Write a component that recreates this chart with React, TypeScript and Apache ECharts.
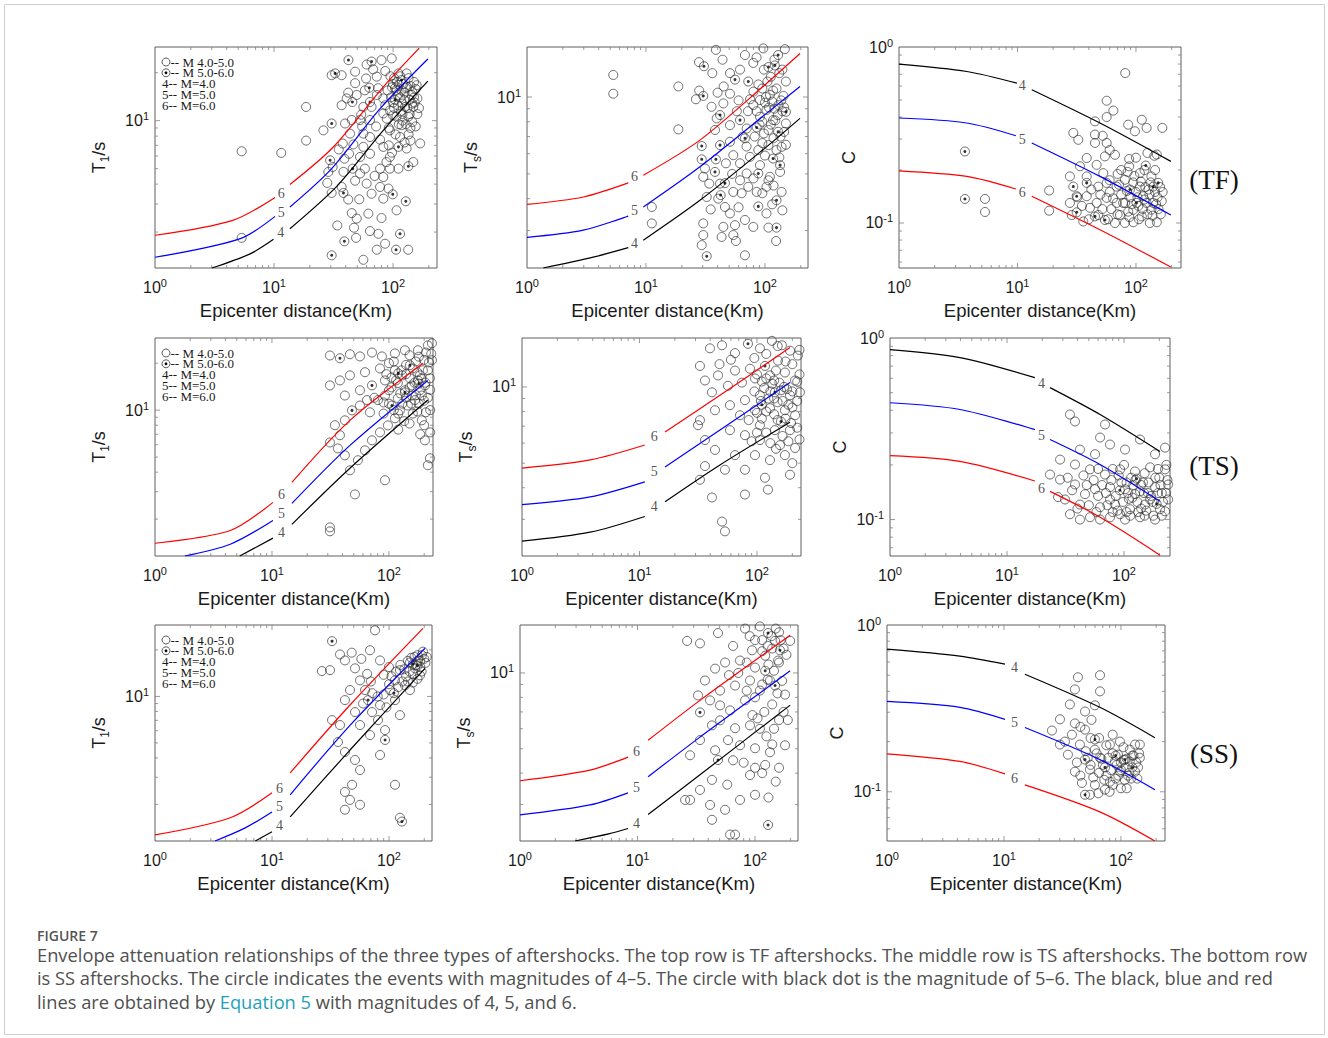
import React, { useEffect, useRef } from "react";
import * as echarts from "echarts";

const SERIF = "'Liberation Serif', 'Times New Roman', serif";
const SANS = "'Liberation Sans', Arial, sans-serif";
const CAPTION_FONT = "'Open Sans', 'Noto Sans', sans-serif";

// ---------- TF aftershocks ----------
const tfT1Open = [[5.35,6.43],[11.5,6.28],[18.6,12.2],[18.6,7.5],[5.35,1.84],[26,8.7],[30.5,19.3],[37,19.3],[97.5,24.6],[80,24],[169,7.2],[148,5.5],[107,2.74],[134,1.55],[85.7,1.69],[75.3,1.95],[73,1.55],[56.3,1.34],[64,2.03],[48.9,1.84],[80,2.45],[45,2.63],[49.5,2.43],[30.5,3.52],[28,4.07],[52,3.21],[60,4.03],[77.8,3.84],[91.4,3.75],[52.8,4.66],[77.8,5.0],[82.8,4.43],[31.1,5.12],[39,5.78],[42.7,6.2],[37.8,7.19],[46.4,7.1],[56.3,6.85],[64,7.9],[82.8,6.85],[130,6.69],[114.5,7.9],[94,8.7],[118,9.37],[134.5,10.6],[148,12.2],[143.6,14.5],[130,16.3],[107,15.6],[94,11.6],[88.5,10.3],[107,10.6],[126,12.2],[111,19.8],[130,19.8],[73,18.9],[73,14.5],[59.3,18.4],[48,20.3],[48,17.2],[49.5,14.5],[40.8,13.8],[37,12.5],[56.3,12.2],[64,10.1],[52.8,10.1],[45,10.1],[82.8,11.1],[82.8,13.8],[39.5,9.6],[43.5,8.3],[56.3,8.3],[77.8,7.6],[52.8,5.92],[64,6.2],[94,5.92],[111,5.0],[94,5.0],[62,2.61],[37,3.84],[28.6,4.77],[82.8,3.24],[47,2.13],[38.3,4.77],[66,3.48],[100,17],[115,14],[120,12.8],[138,13.5],[125,15],[112,16.8],[100,13],[90,15.5],[140,9],[120,11],[105,8.2],[92,7],[150,17.5],[160,11],[95,19],[68,21],[58,15.5],[42,15],
  [102,18.5],[108,17.5],[115,19],[122,17],[128,16],[135,18.5],[140,16.5],[145,15.2],[150,14],[155,15.8],[118,15.5],[110,14.5],[104,16],[98,16.2],[96,14],[102,12],[110,12.5],[116,11.5],[124,13.5],[132,12],[138,11],[145,12.8],[152,13],[160,13.8],[165,12],[158,16.7],[112,9.5],[120,10],[128,9.5],[100,10.8],[92,9],[86,12.5],[135,8.2],[145,9.8],[155,9.2],[125,7.3],[140,7.5],[98,6.3],[88,5.5],[70,4.5],[58,5],[48,4.2],[42,3.2],[34,2.2],[72,9.2],[66,12.2],[55,9.2],[35,6.6],[60,22.5],[86,20.5],[75,16],[54,10.9]];
const tfT1Dot = [[30.5,9.6],[30.5,1.43],[32.6,19.8],[42.2,24],[66,23.5],[134.5,5.18],[128,3.12],[114.5,1.95],[106,1.55],[99.4,3.45],[39,1.75],[38.3,3.52],[45.8,5.0],[29.6,5.64],[111,6.85],[118,18],[104,13.5],[63.2,16.1],[45.5,13.1],[64,13.1]];
const tfT1M4 = [[[3.0,1.19],[6.3,1.46],[9.9,1.80]], [[13.6,2.10],[34.3,3.93],[82.8,8.7],[196,17.7]]];
const tfT1M5 = [[[1,1.39],[5.2,1.82],[10.2,2.51]], [[13.6,2.87],[30.5,5.0],[77.8,11.9],[196,24.4]]];
const tfT1M6 = [[[1,1.91],[4.5,2.37],[10.2,3.3]], [[13.6,3.98],[31.5,6.84],[82.9,16.3],[166,28.5]]];
const tfT1Tags = [[11.5,1.97],[11.6,2.63],[11.6,3.45]];

const tfTsOpen = [[5.31,12.2],[5.31,10.3],[11.2,3.71],[11.2,3.2],[18.7,11.0],[18.7,7.47],[27.9,13.7],[38.7,15.3],[44,14],[36.1,12.4],[28,10.6],[26.3,9.8],[35.6,9.16],[39.3,8.25],[44.7,9.44],[50.8,10.3],[50.8,12.4],[61.7,12.8],[67.9,14.6],[79.8,13.6],[96.8,15.5],[147,15.4],[132,12.4],[117,10.6],[143,10.1],[90.8,9.73],[79.8,9.3],[103,8.9],[90.8,8.37],[117,8.12],[150,7.88],[107,7.43],[70.2,7.53],[50.8,7.76],[38,7.43],[31.3,5.25],[50.8,6.68],[54.2,5.92],[61.7,5.5],[74.8,5.83],[90.8,5.41],[138,6.38],[107,6.48],[87.9,6.2],[110,4.87],[134,5.09],[70.2,5.02],[61.7,4.72],[34,4.58],[41.9,4.58],[30.3,4.87],[32.4,4.06],[54.2,4.25],[63.7,4.2],[72.4,4.45],[85.2,4.25],[103,4.45],[107,4.72],[138,4.25],[103,3.5],[107,3.08],[124,2.73],[79.8,3.1],[67.9,3.3],[56,3.15],[54.2,2.88],[44.7,3.1],[50.8,3.5],[43.2,2.83],[30.3,3.2],[30.3,2.88],[29.4,2.63],[57,2.73],[67.9,2.4],[40.5,4.0],[35,3.63],[46.1,3.71],[95,8.0],[100,9.5],[110,10.2],[120,9.0],[128,8.5],[98,7.2],[85,8.8],[112,7.8],[125,10.8],[105,11.5],[135,7.0],[140,8.8],
  [75,9.8],[80,10.5],[88,11.2],[95,10.8],[102,10],[108,9.1],[115,9.6],[122,8.1],[130,9.3],[137,9.7],[145,9.1],[90,7.8],[82,7.0],[95,6.6],[100,5.9],[118,6.9],[125,6.2],[132,5.8],[145,7.3],[150,6.5],[70,6.4],[65,7.0],[58,8.8],[72,8.8],[112,12.0],[98,12.8],[85,14.3],[140,12.8],[150,11.5],[120,14.0],[45,11],[40,10.4],[60,9.7],[53,5.0],[47,5.5],[80,4.8],[95,4.2],[115,3.8],[60,3.7],[118,4.5],[140,3.6]];
const tfTsDot = [[30.7,13.2],[30.3,10.1],[56,11.7],[72.4,11.5],[107,13.1],[129,14.6],[121,13.3],[150,8.75],[129,7.31],[85.2,7.6],[67.9,6.89],[61.7,8.12],[41.9,8.5],[29.4,6.43],[29.4,5.7],[38.7,5.7],[41.9,6.48],[117,5.74],[134,5.41],[87.9,5.02],[38,5.09],[46.1,4.6],[42.4,4.13],[125,3.94],[87.9,3.73],[125,3.08],[32.4,2.38]];
const tfTsM4 = [[[1.37,2.14],[3.6,2.36],[7.1,2.57]], [[9.5,2.75],[28.4,3.94],[103,6.38],[197,8.25]]];
const tfTsM5 = [[[1,2.82],[2.97,3.01],[7.1,3.42]], [[9.5,3.71],[28.4,5.33],[103,8.63],[197,11.0]]];
const tfTsM6 = [[[1,3.80],[2.97,4.06],[7.1,4.61]], [[9.5,4.94],[28.4,6.78],[103,11.3],[197,14.8]]];
const tfTsTags = [[8.1,2.65],[8.1,3.57],[8.1,4.87]];

const tfCOpen = [[5.32,0.137],[5.32,0.1155],[18.5,0.153],[18.5,0.1175],[81.2,0.711],[56.6,0.495],[64.4,0.435],[56.6,0.40],[45.1,0.378],[52.4,0.313],[45.1,0.318],[45.1,0.285],[56.6,0.285],[29.6,0.325],[32.6,0.297],[66.5,0.244],[86,0.362],[98,0.332],[112,0.386],[123,0.347],[167,0.347],[143,0.241],[87.7,0.231],[87.7,0.210],[108,0.192],[38.4,0.234],[54.7,0.239],[46.6,0.214],[33.7,0.210],[27.7,0.184],[27.7,0.130],[28.7,0.111],[35.9,0.102],[66.5,0.100],[46.6,0.130],[56.6,0.139],[68.7,0.130],[56.6,0.169],[68.7,0.161],[48.1,0.161],[80.7,0.176],[81,0.130],[95,0.119],[80.7,0.100],[95,0.101],[112,0.109],[131,0.100],[150,0.101],[135,0.119],[115,0.142],[135,0.184],[165,0.133],[108,0.161],[123,0.130],[73.3,0.111],[86,0.116],[40.9,0.122],[38.4,0.142],[53,0.192],[38.4,0.184],[48.1,0.111],[100,0.15],[120,0.16],[90,0.14],[140,0.13],[105,0.125],[75,0.145],[62,0.12],[130,0.145],[155,0.12],[95,0.17],[70,0.19],[60,0.15],
  [32,0.14],[35,0.125],[40,0.105],[42,0.155],[50,0.145],[52,0.12],[58,0.105],[60,0.175],[64,0.138],[70,0.112],[72,0.165],[78,0.13],[84,0.152],[88,0.108],[92,0.128],[97,0.185],[103,0.14],[106,0.105],[110,0.172],[114,0.12],[118,0.136],[125,0.112],[128,0.155],[133,0.17],[138,0.11],[145,0.15],[148,0.128],[152,0.14],[160,0.16],[162,0.112],[168,0.15],[75,0.2],[85,0.195],[118,0.2],[145,0.2],[100,0.235],[60,0.26],[125,0.25],[150,0.245]];
const tfCDot = [[3.6,0.255],[3.6,0.137],[121,0.212],[29.6,0.161],[31.6,0.115],[31.6,0.142],[38.4,0.169],[45.1,0.109],[54.7,0.104],[89,0.155],[140,0.161],[154,0.169],[101,0.130]];
const tfCM4 = [[[1,0.80],[3.73,0.726],[9.9,0.624]], [[13.2,0.572],[49.7,0.370],[197,0.224]]];
const tfCM5 = [[[1,0.395],[3.73,0.370],[9.7,0.313]], [[13.2,0.285],[49.7,0.184],[197,0.111]]];
const tfCM6 = [[[1,0.198],[3.73,0.184],[9.7,0.156]], [[13.2,0.142],[49.7,0.0916],[197,0.0562]]];
const tfCTags = [[11.1,0.597],[11.1,0.297],[11.1,0.149]];

// ---------- TS aftershocks ----------
const tsT1Open = [[31.3,22.4],[46.4,22.8],[56.5,22.1],[71.6,23.4],[87.1,22.1],[112.5,23.1],[137,24.2],[177,24.2],[215,26],[233,26.8],[207,23.4],[112.5,18],[83.8,18.5],[62.4,17.5],[46.4,16.7],[38.1,15.5],[31.3,14.4],[42,12.4],[56.5,13.4],[92.5,15.5],[119,14.9],[151,16],[184,16.7],[31.3,6.2],[34.5,8],[38.1,6.9],[42,8.6],[56.5,10.7],[68.8,9.68],[80.5,11.6],[92.5,12.4],[119,11.9],[137,13.4],[157,14.4],[177,15.5],[112.5,8.86],[98,7.98],[83.8,7.2],[71.6,6.4],[62.4,5.52],[54.3,4.77],[46.4,4.11],[42,5.13],[36.6,5.68],[124,9.96],[145,10.7],[167,11.6],[191,12.4],[203,6.4],[224,4.91],[215,4.43],[51.2,2.88],[31.3,1.77],[31.3,1.67],[92.5,3.55],[157,12.4],[184,13.4],[203,14.4],[233,20.9],[224,16],[207,9.68],[191,8.6],[100,13.4],[130,16.7],[160,18.5],[75,12],[65,11.6],[90,9.5],[120,7.5],[150,8.2],[170,20.5],[140,19.5],[110,20.5],[195,18],[125,12.8],[105,14],
  [95,17],[105,16.2],[115,15.5],[128,18],[140,17],[150,14],[165,15],[175,17.5],[190,16],[205,15],[215,18],[225,13.5],[130,11],[140,12],[155,11],[170,12.5],[180,11],[200,11.5],[215,12],[225,10],[110,10],[100,11],[160,9.5],[175,9.8],[120,9.5],[135,8.5],[90,11.2],[200,8],[225,7.2],[185,7],[230,23],[200,21],[180,22],[220,20.2],[150,22.5],[100,20]];
const tsT1Dot = [[38.1,21.5],[151,19.4],[71.6,14.4],[48.3,9.96],[106,10.7],[137,13],[180,14.8],[120,17.2]];
const tsT1M4 = [[[5.3,1.16],[10.2,1.51]], [[14.8,1.85],[46.4,4.24],[215,11.6]]];
const tsT1M5 = [[[1.8,1.16],[4.4,1.38],[10.2,1.96]], [[14.8,2.52],[46.4,5.94],[215,15.5]]];
const tsT1M6 = [[[1,1.40],[4.4,1.69],[10.2,2.56]], [[14.8,3.44],[46.4,8.6],[195,19.9]]];
const tsT1Tags = [[12.2,1.62],[12.2,2.15],[12.2,2.84]];

const tsTsOpen = [[39.8,14.2],[50.4,14.6],[65,13.6],[106,14.2],[134,15.2],[163,14.6],[191,13.9],[223,13.3],[151,12.7],[87.2,11.8],[65,11.6],[46.6,11.1],[36.1,10.6],[32.7,12.1],[41.4,9.52],[56.6,10.1],[74.5,10.4],[96.2,10.8],[129,11.1],[173,11.4],[211,10.6],[232,9.52],[191,9.27],[106,9.27],[79,8.87],[58.9,8.47],[43.9,8.09],[32.7,7.39],[71.7,7.73],[96.2,8.09],[129,8.24],[173,8.09],[211,7.73],[106,7.06],[142,6.75],[191,6.75],[79,6.45],[58.9,6.75],[36.1,6.17],[43.9,5.64],[65,5.38],[96.2,5.38],[129,5.14],[173,5.38],[211,5.74],[53.4,4.71],[79,4.71],[117,4.38],[191,4.5],[32.7,4.3],[41.4,3.66],[79,3.76],[124,3.93],[50.4,2.94],[53.4,2.69],[36.1,4.87],[31.5,7.06],[106,6.17],[157,5.89],[115,9.9],[125,9.0],[135,10.3],[150,8.7],[160,9.7],[100,7.9],[140,7.8],[120,6.6],[165,6.4],[90,6.1],
  [100,11.2],[110,10.5],[120,10.8],[140,10.6],[145,11.6],[155,10.4],[170,10],[180,9.8],[200,9.6],[220,10.5],[230,11.2],[95,9.6],[108,8.8],[130,9.6],[140,9.0],[165,8.8],[185,8.5],[200,8.3],[220,8.8],[110,7.5],[120,8.0],[150,7.4],[175,7.5],[195,7.2],[220,6.9],[230,6.2],[130,6.0],[145,5.7],[185,6.1],[200,5.0],[100,6.6],[85,7.4],[230,14],[200,12.3],[175,12.6],[150,14.5],[120,13.5],[95,13],[60,12.8],[48,12.3]];
const tsTsDot = [[83.8,14.8],[117,12.1],[142,9.52],[110,8.5],[160,7.3]];
const tsTsM4 = [[[1,2.46],[3.8,2.67],[11.1,3.08]], [[16.5,3.52],[48.4,4.92],[191,7.25]]];
const tsTsM5 = [[[1,3.43],[3.8,3.68],[11.1,4.22]], [[16.5,4.83],[48.4,6.76],[191,10.4]]];
const tsTsM6 = [[[1,4.78],[3.8,5.15],[11.1,5.9]], [[16.5,6.64],[48.4,9.27],[191,14.3]]];
const tsTsTags = [[13.5,3.37],[13.5,4.62],[13.5,6.34]];

const tsCOpen = [[34.5,0.379],[38.1,0.347],[68.8,0.334],[62.4,0.283],[42,0.243],[56.5,0.229],[75.9,0.259],[102,0.243],[137,0.276],[184,0.229],[224,0.249],[28.4,0.214],[38.1,0.201],[51.2,0.189],[68.8,0.177],[92.5,0.189],[124,0.184],[167,0.194],[224,0.189],[28.4,0.166],[38.1,0.156],[56.5,0.147],[75.9,0.151],[102,0.147],[137,0.143],[184,0.151],[238,0.156],[31.3,0.129],[42,0.121],[62.4,0.117],[83.8,0.121],[112.5,0.114],[151,0.121],[203,0.114],[238,0.129],[34.5,0.107],[51.2,0.103],[75.9,0.103],[102,0.100],[137,0.103],[184,0.100],[224,0.111],[42,0.100],[62.4,0.100],[92.5,0.107],[46.4,0.138],[23.3,0.177],[27.3,0.133],[75.9,0.129],[124,0.138],[167,0.129],[95,0.16],[110,0.13],[130,0.125],[145,0.16],[105,0.11],[120,0.155],[160,0.14],[85,0.135],[115,0.17],[175,0.125],[200,0.17],[210,0.14],[140,0.115],[88,0.112],[100,0.2],[150,0.105],
  [33,0.17],[36,0.145],[40,0.115],[45,0.175],[48,0.155],[50,0.12],[55,0.165],[58,0.11],[60,0.135],[65,0.155],[70,0.14],[72,0.12],[78,0.165],[80,0.11],[90,0.175],[98,0.125],[105,0.16],[108,0.14],[113,0.105],[118,0.132],[125,0.165],[132,0.11],[140,0.155],[148,0.14],[155,0.112],[162,0.16],[170,0.135],[178,0.105],[185,0.17],[195,0.14],[205,0.155],[215,0.125],[228,0.14],[235,0.165],[210,0.105],[195,0.19],[150,0.18],[80,0.19],[60,0.19],[230,0.2]];
const tsCDot = [[92,0.145],[128,0.168],[190,0.122]];
const tsCM4 = [[[1,0.863],[3.96,0.78],[17.3,0.605]], [[23.3,0.533],[62.4,0.379],[203,0.237]]];
const tsCM5 = [[[1,0.44],[3.96,0.404],[17.3,0.313]], [[23.3,0.276],[62.4,0.201],[203,0.126]]];
const tsCM6 = [[[1,0.225],[3.96,0.209],[17.3,0.163]], [[23.3,0.143],[62.4,0.103],[203,0.0637]]];
const tsCTags = [[19.9,0.561],[19.9,0.287],[19.9,0.147]];

// ---------- SS aftershocks ----------
const ssT1Open = [[26.7,14.6],[38.1,18.7],[42,17.1],[51.2,15.2],[68.8,19.9],[75.9,26.8],[83.8,17.1],[56.5,12.7],[62.4,11],[46.4,11],[42,9.47],[51.2,7.92],[56.5,6.53],[71.6,7.92],[80.5,7.03],[83.8,8.79],[102,11],[112.5,12.7],[124,14.8],[151,16.6],[167,15.2],[184,13.7],[137,11.8],[112.5,9.47],[124,7.57],[92.5,6.06],[68.8,5.62],[38.1,6.53],[32.6,7.03],[36.6,5.07],[42,4.37],[51.2,3.88],[56.5,3.34],[48.3,2.68],[42,2.41],[46.4,2.14],[56.5,1.99],[42,1.85],[124,1.64],[112.5,2.68],[83.8,4.18],[151,11],[177,17.1],[191,18.5],[31.3,14.8],[160,14],[140,13.5],[200,17.5],[95,8.5],[130,12.5],[150,14.5],[170,16],[185,15.5],[60,9],[72,10.5],
  [105,13.5],[115,14.5],[125,16],[135,15],[145,17],[155,17.8],[165,18],[175,18.5],[185,17],[195,19.5],[205,16.5],[210,18],[145,12.5],[160,12.3],[175,13],[190,14.5],[120,11.5],[100,12],[90,10.3],[80,10],[70,12.5],[65,14],[58,17.5],[48,19.2],[100,15.5],[90,13.8]];
const ssT1Dot = [[32.6,22.8],[66.2,9.47],[92.5,5.23],[129,1.55],[175,15.8],[110,10.5],[160,16.2]];
const ssT1M4 = [[[7.2,1.16],[10,1.33]], [[14.3,1.66],[46.4,4.5],[203,15.2]]];
const ssT1M5 = [[[3.26,1.16],[5.9,1.41],[10,1.79]], [[14.3,2.31],[46.4,6.5],[203,20.5]]];
const ssT1M6 = [[[1,1.27],[4.4,1.64],[10,2.38]], [[14.3,3.2],[46.4,8.8],[195,27.6]]];
const ssT1Tags = [[11.7,1.44],[11.7,1.93],[11.7,2.52]];

const ssTsOpen = [[26.4,13.4],[34,13.1],[48.4,14.4],[65,12.8],[82.2,15],[110,15.3],[148,13.4],[122,11.7],[94.3,12.3],[74.5,11.2],[55.6,11],[45.7,10.4],[37.5,9.33],[32.7,8.14],[41.4,7.78],[50.4,8.51],[67.6,8.91],[90.6,9.33],[157,11.2],[110,8.51],[82.2,7.78],[61.3,7.1],[50.4,6.48],[67.6,6.03],[90.6,6.19],[43,6.19],[34,5.41],[28,4.71],[45.7,4.93],[74.5,5.16],[100,5.02],[134,4.84],[180,5.16],[122,4.31],[90.6,3.93],[43,3.76],[34,3.43],[28,3.13],[41.4,2.99],[55.6,2.86],[74.5,3.13],[100,3.28],[61.3,2.28],[67.6,2.28],[43,2.61],[25.4,3.13],[50.4,7.43],[199,13.4],[134,9.33],[58.9,5.41],[140,12.5],[130,10.8],[115,13.5],[160,14.5],[100,10.5],[85,11],[120,7],[105,6.6],[145,6],
  [90,14],[100,13.5],[115,12.2],[128,12.8],[138,14],[150,15],[165,13.5],[175,12.5],[185,11.8],[160,11],[145,10.2],[128,9.4],[115,9],[100,8],[140,7.5],[155,8.3],[170,9.3],[180,8.2],[60,9.8],[72,10],[85,8.5],[95,6.8],[110,6],[125,5.6],[140,5.2],[160,6.5],[175,7],[190,6.5],[100,4.2],[115,4],[65,4.5],[80,4.4],[58,3.6],[150,3.7],[130,3.2],[160,4.2]];
const ssTsDot = [[129,14.4],[163,12.3],[122,10.2],[34,6.97],[48.4,4.51],[129,2.49],[148,8.91]];
const ssTsM4 = [[[2.94,2.15],[5.8,2.30],[8.3,2.41]], [[12.3,2.74],[34,3.94],[199,7.45]]];
const ssTsM5 = [[[1,2.73],[3.94,2.99],[8.3,3.34]], [[12.3,3.87],[34,5.56],[199,10.2]]];
const ssTsM6 = [[[1,3.73],[3.94,4.11],[8.3,4.63]], [[12.3,5.4],[34,7.78],[199,14.1]]];
const ssTsTags = [[9.9,2.52],[9.9,3.49],[9.9,4.84]];

const ssCOpen = [[42.9,0.486],[66.2,0.5],[40.4,0.411],[66.2,0.40],[36.6,0.334],[49.3,0.303],[59.9,0.33],[30.1,0.272],[40.4,0.257],[25.7,0.233],[49.3,0.236],[33.2,0.20],[44.6,0.192],[80.5,0.192],[98,0.20],[119,0.179],[132,0.192],[35.2,0.167],[66.2,0.160],[88.9,0.152],[145,0.160],[40.4,0.132],[54.3,0.136],[98,0.132],[132,0.132],[46.4,0.113],[59.9,0.110],[80.5,0.115],[108,0.118],[54.3,0.096],[73,0.103],[30.1,0.192],[38.1,0.22],[94.3,0.167],[59.9,0.179],[145,0.192],[119,0.152],[70,0.145],[85,0.17],[110,0.14],[125,0.165],[100,0.15],[75,0.125],[90,0.12],[140,0.14],[115,0.125],[65,0.21],[50,0.175],
  [42,0.15],[45,0.125],[52,0.16],[55,0.145],[58,0.122],[62,0.17],[65,0.13],[68,0.158],[72,0.118],[78,0.16],[82,0.135],[85,0.11],[92,0.145],[95,0.125],[100,0.135],[105,0.155],[112,0.158],[118,0.13],[122,0.12],[128,0.165],[135,0.15],[138,0.12],[143,0.17],[112,0.105],[64,0.098],[80,0.1],[100,0.105],[75,0.19],[105,0.185],[55,0.21],[85,0.22],[45,0.245],[56,0.27]];
const ssCDot = [[59.9,0.206],[49.3,0.156],[108,0.156],[73,0.140],[49.3,0.096],[90,0.165],[125,0.14]];
const ssCM4 = [[[1,0.717],[4.2,0.651],[10.2,0.582]], [[15.1,0.507],[66,0.321],[195,0.211]]];
const ssCM5 = [[[1,0.348],[4.2,0.321],[10.2,0.272]], [[15.1,0.243],[66,0.156],[195,0.103]]];
const ssCM6 = [[[1,0.169],[4.2,0.152],[10.2,0.128]], [[15.1,0.110],[66,0.0758],[195,0.0507]]];
const ssCTags = [[12.4,0.551],[12.4,0.257],[12.4,0.12]];

// Axis extents (distance max, response min/max)
const xMaxes = [234, 230, 240, 238, 237, 247, 233, 232, 238];
const yRanges = [[1.19, 29], [2.14, 15.7], [0.0555, 1], [1.16, 29], [2.15, 15.6], [0.063, 1], [1.16, 29], [2.15, 15.5], [0.0507, 1]];
const magnitudes = ["4", "5", "6"];
const rowTags = ["(TF)", "(TS)", "(SS)"];
const legendSymbolLines = "-- M 4.0-5.0\n-- M 5.0-6.0";
const legendCurveLines = "4-- M=4.0\n5-- M=5.0\n6-- M=6.0";

// Layout of the nine axes boxes: [left, top, width, height]
const frames = [
  [155, 47, 282, 221], [527, 47, 281, 221], [899, 47, 282, 221],
  [155, 338, 278, 218], [522, 338, 279, 218], [890, 338, 280, 218],
  [155, 625, 277, 216], [520, 625, 278, 216], [887, 625, 278, 216],
];
const rowTagY = [180, 466, 754];
const curveColors = ["#000000", "#0000ff", "#ff0000"];

const panels = [
  { open: tfT1Open, dot: tfT1Dot, curves: [tfT1M4, tfT1M5, tfT1M6], tags: tfT1Tags, kind: "T1" },
  { open: tfTsOpen, dot: tfTsDot, curves: [tfTsM4, tfTsM5, tfTsM6], tags: tfTsTags, kind: "Ts" },
  { open: tfCOpen, dot: tfCDot, curves: [tfCM4, tfCM5, tfCM6], tags: tfCTags, kind: "C" },
  { open: tsT1Open, dot: tsT1Dot, curves: [tsT1M4, tsT1M5, tsT1M6], tags: tsT1Tags, kind: "T1" },
  { open: tsTsOpen, dot: tsTsDot, curves: [tsTsM4, tsTsM5, tsTsM6], tags: tsTsTags, kind: "Ts" },
  { open: tsCOpen, dot: tsCDot, curves: [tsCM4, tsCM5, tsCM6], tags: tsCTags, kind: "C" },
  { open: ssT1Open, dot: ssT1Dot, curves: [ssT1M4, ssT1M5, ssT1M6], tags: ssT1Tags, kind: "T1" },
  { open: ssTsOpen, dot: ssTsDot, curves: [ssTsM4, ssTsM5, ssTsM6], tags: ssTsTags, kind: "Ts" },
  { open: ssCOpen, dot: ssCDot, curves: [ssCM4, ssCM5, ssCM6], tags: ssCTags, kind: "C" },
];

// Powers of ten get a label like 10^k, everything else stays blank
const powLabel = (v: number) => {
  const e = Math.log10(v);
  const r = Math.round(e);
  if (Math.abs(e - r) > 1e-6) return "";
  return `{b|10}{s|${r}}`;
};
const powRich = {
  b: { fontSize: 16, lineHeight: 20, fontFamily: SANS, color: "#1a1a1a" },
  s: { fontSize: 11, lineHeight: 10, verticalAlign: "top", fontFamily: SANS, color: "#1a1a1a" },
};

// Log-decade tick positions (1..9 x 10^k) inside an axis range
const logTicks = (lo: number, hi: number) => {
  const out: number[][] = [];
  for (let e = Math.floor(Math.log10(lo)); e <= Math.ceil(Math.log10(hi)); e++) {
    for (let m = 1; m <= 9; m++) {
      const v = m * Math.pow(10, e);
      if (v > lo * 1.001 && v < hi * 0.999) out.push([v, m === 1 ? 1 : 0]);
    }
  }
  return out;
};

function buildOption() {
  const grid: any[] = [];
  const xAxis: any[] = [];
  const yAxis: any[] = [];
  const series: any[] = [];
  const graphic: any[] = [];

  panels.forEach((p, i) => {
    const [l, t, w, h] = frames[i];
    const [yMin, yMax] = yRanges[i];
    const xMax = xMaxes[i];
    grid.push({ left: l, top: t, width: w, height: h, show: true, borderColor: "#5e5e5e", borderWidth: 1, backgroundColor: "#ffffff" });
    xAxis.push({
      type: "log", logBase: 10, gridIndex: i, min: 1, max: xMax,
      axisLine: { show: false }, axisTick: { show: false }, splitLine: { show: false }, minorTick: { show: false },
      axisLabel: { formatter: powLabel, margin: 9, rich: powRich },
      name: "Epicenter distance(Km)", nameLocation: "middle", nameGap: 33,
      nameTextStyle: { fontSize: 18.5, color: "#1a1a1a", fontFamily: SANS },
    });
    let name = "C";
    if (p.kind === "T1") name = "{n|T}{u|1}{n|/s}";
    if (p.kind === "Ts") name = "{n|T}{u|s}{n|/s}";
    yAxis.push({
      type: "log", logBase: 10, gridIndex: i, min: yMin, max: yMax,
      axisLine: { show: false }, axisTick: { show: false }, splitLine: { show: false }, minorTick: { show: false },
      axisLabel: { formatter: powLabel, margin: 6, rich: powRich },
      name, nameLocation: "middle", nameGap: p.kind === "C" ? 41 : 44,
      nameTextStyle: {
        fontSize: 18, color: "#1a1a1a", fontFamily: SANS,
        rich: {
          n: { fontSize: 18, lineHeight: 24, fontFamily: SANS, color: "#1a1a1a" },
          u: { fontSize: 12, lineHeight: 12, verticalAlign: "bottom", fontFamily: SANS, color: "#1a1a1a" },
        },
      },
    });

    // inward ticks on all four sides of the box
    const tickData: number[][] = [];
    logTicks(1, xMax).forEach(([v, major]) => tickData.push([v, yMin, 0, major]));
    logTicks(yMin, yMax).forEach(([v, major]) => tickData.push([1, v, 1, major]));
    series.push({
      type: "custom", xAxisIndex: i, yAxisIndex: i, silent: true, clip: false, z: 1,
      encode: { x: 0, y: 1 },
      data: tickData,
      renderItem: (params: any, api: any) => {
        const cs = params.coordSys;
        const len = api.value(3) ? 5 : 3;
        const st = { stroke: "#808080", lineWidth: 0.8 };
        if (api.value(2) === 0) {
          const px = api.coord([api.value(0), api.value(1)])[0];
          return {
            type: "group",
            children: [
              { type: "line", shape: { x1: px, y1: cs.y, x2: px, y2: cs.y + len }, style: st },
              { type: "line", shape: { x1: px, y1: cs.y + cs.height, x2: px, y2: cs.y + cs.height - len }, style: st },
            ],
          };
        }
        const py = api.coord([api.value(0), api.value(1)])[1];
        return {
          type: "group",
          children: [
            { type: "line", shape: { x1: cs.x, y1: py, x2: cs.x + len, y2: py }, style: st },
            { type: "line", shape: { x1: cs.x + cs.width, y1: py, x2: cs.x + cs.width - len, y2: py }, style: st },
          ],
        };
      },
    });

    // events: open circles for M4-5, circles with a dot for M5-6
    series.push({
      type: "scatter", xAxisIndex: i, yAxisIndex: i, silent: true, z: 2,
      data: p.open.concat(p.dot), symbol: "circle", symbolSize: 9,
      itemStyle: { color: "rgba(255,255,255,0)", borderColor: "#2b2b2b", borderWidth: 0.85 },
    });
    series.push({
      type: "scatter", xAxisIndex: i, yAxisIndex: i, silent: true, z: 2,
      data: p.dot, symbol: "circle", symbolSize: 3,
      itemStyle: { color: "#000000" },
    });

    // envelope curves, each broken where its magnitude tag sits
    p.curves.forEach((segs, k) => {
      segs.forEach((seg) => {
        series.push({
          type: "line", xAxisIndex: i, yAxisIndex: i, silent: true, z: 3,
          data: seg, smooth: 0.3, showSymbol: false, symbol: "none",
          lineStyle: { color: curveColors[k], width: 1.2 },
        });
      });
    });
    series.push({
      type: "scatter", xAxisIndex: i, yAxisIndex: i, silent: true, z: 4,
      data: p.tags.map((v, k) => ({ value: v, name: magnitudes[k] })),
      symbolSize: 1,
      itemStyle: { color: "rgba(0,0,0,0)" },
      label: {
        show: true, position: [0, 0], align: "center", verticalAlign: "middle",
        formatter: "{b}", fontFamily: SERIF, fontSize: 14,
        color: "#262626", textBorderWidth: 0,
      },
    });

    // in-axes key for the first column
    if (i % 3 === 0) {
      const y0 = t + 15;
      const step = 10.8;
      graphic.push({ type: "circle", silent: true, shape: { cx: l + 11, cy: y0, r: 4 }, style: { fill: "none", stroke: "#333", lineWidth: 0.8 } });
      graphic.push({ type: "circle", silent: true, shape: { cx: l + 11, cy: y0 + step, r: 4 }, style: { fill: "none", stroke: "#333", lineWidth: 0.8 } });
      graphic.push({ type: "circle", silent: true, shape: { cx: l + 11, cy: y0 + step, r: 1.4 }, style: { fill: "#000" } });
      graphic.push({
        type: "text", silent: true,
        style: { text: legendSymbolLines, x: l + 15.5, y: y0 - step / 2, font: `13px ${SERIF}`, lineHeight: step, fill: "#1a1a1a", align: "left", verticalAlign: "top", textAlign: "left", textVerticalAlign: "top" },
      });
      graphic.push({
        type: "text", silent: true,
        style: { text: legendCurveLines, x: l + 7, y: y0 + 1.5 * step + 0.2, font: `13px ${SERIF}`, lineHeight: step, fill: "#1a1a1a", align: "left", verticalAlign: "top", textAlign: "left", textVerticalAlign: "top" },
      });
    }
  });

  // row names on the right
  rowTags.forEach((tag, r) => {
    graphic.push({
      type: "text", silent: true,
      style: { text: tag, x: 1214, y: rowTagY[r], font: `27px ${SERIF}`, fill: "#111", align: "center", verticalAlign: "middle", textAlign: "center", textVerticalAlign: "middle" },
    });
  });

  // figure frame and caption
  graphic.push({ type: "rect", silent: true, z: -10, shape: { x: 4.5, y: 4.5, width: 1320, height: 1030 }, style: { fill: "none", stroke: "#cfcfcf", lineWidth: 1 } });
  graphic.push({
    type: "text", silent: true,
    style: { text: "FIGURE 7", x: 37, y: 935, font: `600 14px ${CAPTION_FONT}`, fill: "#555", align: "left", verticalAlign: "middle", textAlign: "left", textVerticalAlign: "middle" },
  });
  const capLines = [
    "Envelope attenuation relationships of the three types of aftershocks. The top row is TF aftershocks. The middle row is TS aftershocks. The bottom row",
    "is SS aftershocks. The circle indicates the events with magnitudes of 4\u20135. The circle with black dot is the magnitude of 5\u20136. The black, blue and red",
  ];
  capLines.forEach((txt, k) => {
    graphic.push({
      type: "text", silent: true,
      style: { text: txt, x: 37, y: 954 + k * 23.5, font: `18.3px ${CAPTION_FONT}`, fill: "#505050", align: "left", verticalAlign: "middle", textAlign: "left", textVerticalAlign: "middle" },
    });
  });
  graphic.push({
    type: "text", silent: true,
    style: {
      text: "{a|lines are obtained by }{b|Equation 5}{a| with magnitudes of 4, 5, and 6.}",
      x: 37, y: 1001, align: "left", verticalAlign: "middle", textAlign: "left", textVerticalAlign: "middle",
      font: `18.3px ${CAPTION_FONT}`,
      rich: {
        a: { fill: "#505050", color: "#505050", font: `18.3px ${CAPTION_FONT}`, fontSize: 18.3, fontFamily: CAPTION_FONT },
        b: { fill: "#1aa3b8", color: "#1aa3b8", font: `18.3px ${CAPTION_FONT}`, fontSize: 18.3, fontFamily: CAPTION_FONT },
      },
    },
  });

  return {
    animation: false,
    backgroundColor: "#ffffff",
    textStyle: { fontFamily: SANS },
    grid, xAxis, yAxis, series, graphic,
  };
}

export default function App() {
  const ref = useRef<HTMLDivElement>(null);
  useEffect(() => {
    if (!ref.current) return;
    const chart = echarts.init(ref.current, null, { renderer: "svg" });
    chart.setOption(buildOption() as any);
    return () => chart.dispose();
  }, []);
  return (
    <div
      ref={ref}
      style={{ position: "absolute", left: 0, top: 0, width: 1328, height: 1038, background: "#ffffff" }}
    />
  );
}
